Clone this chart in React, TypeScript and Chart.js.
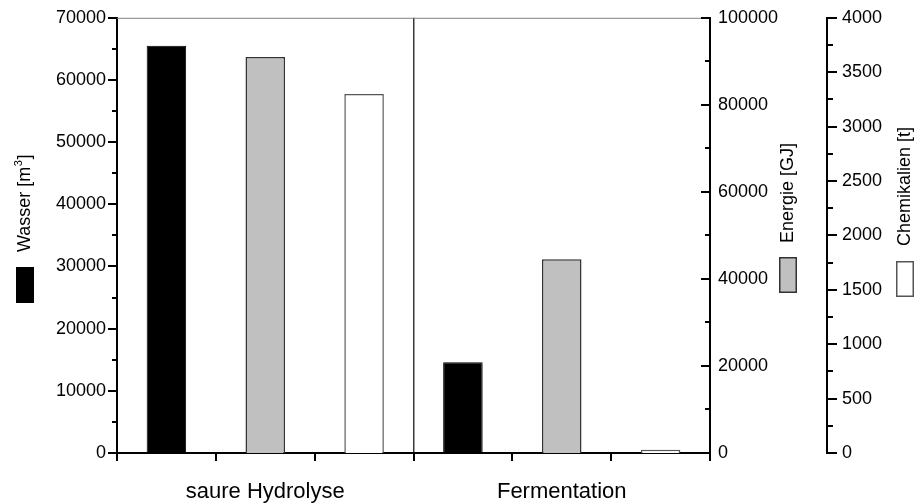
import { useEffect, useRef } from 'react';
import { Chart, registerables } from 'chart.js';

Chart.register(...registerables);

// Process variants on the x axis
const processes = ['saure Hydrolyse', 'Fermentation'];

// Consumption per process
const wasser = [65500, 14600]; // m³
const energie = [91000, 44500]; // GJ
const chemikalien = [3300, 30]; // t

// Series titles
const seriesTitles = ['Wasser [m³]', 'Energie [GJ]', 'Chemikalien [t]'];

// Axis ranges: [max, major step, minor step]
const wasserAxis = [70000, 10000, 5000];
const energieAxis = [100000, 20000, 10000];
const chemikalienAxis = [4000, 500, 250];

const FONT = "'Liberation Sans', Arial, Helvetica, sans-serif";

function drawYTicks(chart: any, id: string, axis: number[], x0: number, dir: number) {
  const { ctx } = chart;
  const scale = chart.scales[id];
  const [max, major, minor] = axis;
  ctx.strokeStyle = '#000';
  ctx.lineWidth = 2;
  for (let v = 0; v <= max; v += minor) {
    const y = Math.round(scale.getPixelForValue(v));
    const len = v % major === 0 ? 9 : 5;
    ctx.beginPath();
    ctx.moveTo(x0, y);
    ctx.lineTo(x0 + dir * len, y);
    ctx.stroke();
  }
}

const framePlugin = {
  id: 'frame',
  afterDraw(chart: any) {
    const { ctx, chartArea: a, scales } = chart;
    ctx.save();

    // top frame line
    ctx.strokeStyle = '#808080';
    ctx.lineWidth = 1;
    ctx.beginPath();
    ctx.moveTo(a.left, a.top + 0.5);
    ctx.lineTo(a.right, a.top + 0.5);
    ctx.stroke();

    // y axis tick marks (major + minor)
    drawYTicks(chart, 'yW', wasserAxis, a.left, -1);
    drawYTicks(chart, 'yE', energieAxis, a.right, -1);
    drawYTicks(chart, 'yC', chemikalienAxis, Math.round(scales.yC.left) + 1, 1);

    // x axis tick marks at slot boundaries
    const xs = scales.x;
    const w = xs.getPixelForValue(1) - xs.getPixelForValue(0);
    ctx.strokeStyle = '#000';
    ctx.lineWidth = 2;
    for (let i = 0; i < processes.length; i++) {
      const c = xs.getPixelForValue(i);
      for (const off of [-w / 2, -w / 6, w / 6, w / 2]) {
        const x = Math.round(c + off);
        ctx.beginPath();
        ctx.moveTo(x, a.bottom);
        ctx.lineTo(x, a.bottom + 8);
        ctx.stroke();
      }
    }

    // rotated axis titles with colour keys
    const placements = [
      { cx: 25, bottom: 252, key: 267 },
      { cx: 788, bottom: 243, key: 257 },
      { cx: 905, bottom: 246, key: 261 },
    ];
    placements.forEach((p, i) => {
      const ds = chart.data.datasets[i];
      const title = seriesTitles[i];
      ctx.save();
      ctx.translate(p.cx, p.bottom);
      ctx.rotate(-Math.PI / 2);
      ctx.fillStyle = '#000';
      ctx.textAlign = 'left';
      ctx.textBaseline = 'middle';
      const parts = title.split('³');
      ctx.font = `18px ${FONT}`;
      ctx.fillText(parts[0], 0, 0);
      if (parts.length > 1) {
        let x = ctx.measureText(parts[0]).width;
        ctx.font = `11px ${FONT}`;
        ctx.fillText('3', x + 0.5, -6);
        x += ctx.measureText('3').width + 1;
        ctx.font = `18px ${FONT}`;
        ctx.fillText(parts[1], x, 0);
      }
      ctx.restore();

      ctx.fillStyle = ds.backgroundColor;
      ctx.strokeStyle = ds.borderColor;
      ctx.lineWidth = 1.5;
      ctx.fillRect(p.cx - 9, p.key, 18, 36);
      ctx.strokeRect(p.cx - 9 + 0.75, p.key + 0.75, 16.5, 34.5);
    });

    ctx.restore();
  },
};

export default function App() {
  const ref = useRef<HTMLCanvasElement>(null);

  useEffect(() => {
    if (!ref.current) return;
    const tickFont = { size: 18, family: FONT };
    const chart = new Chart(ref.current, {
      type: 'bar',
      data: {
        labels: processes,
        datasets: [
          { label: seriesTitles[0], data: wasser, yAxisID: 'yW', backgroundColor: '#000000', borderColor: '#000000', borderWidth: 1 },
          { label: seriesTitles[1], data: energie, yAxisID: 'yE', backgroundColor: '#c0c0c0', borderColor: '#333333', borderWidth: 1.5 },
          { label: seriesTitles[2], data: chemikalien, yAxisID: 'yC', backgroundColor: '#ffffff', borderColor: '#555555', borderWidth: 1.5 },
        ],
      },
      options: {
        responsive: false,
        animation: false,
        layout: { padding: { top: 8, left: 0, right: 0, bottom: 0 } },
        datasets: { bar: { barPercentage: 0.4, categoryPercentage: 1 } },
        plugins: { legend: { display: false }, tooltip: { enabled: false } },
        scales: {
          x: {
            type: 'category',
            position: 'bottom',
            offset: true,
            grid: {
              offset: true,
              drawTicks: false,
              lineWidth: 1.5,
              color: (c: any) => (c.index === 1 ? '#3a3a3a' : 'rgba(0,0,0,0)'),
            },
            border: { display: true, color: '#000', width: 2 },
            ticks: { color: '#000', font: { size: 22, family: FONT }, padding: 26, maxRotation: 0, autoSkip: false },
            afterFit: (s: any) => { s.height = 50; },
          },
          yW: {
            position: 'left',
            min: 0,
            max: wasserAxis[0],
            weight: 0,
            grid: { display: false },
            border: { display: true, color: '#000', width: 2 },
            ticks: { stepSize: wasserAxis[1], padding: 3, color: '#000', font: tickFont, callback: (v: any) => String(v) },
            afterFit: (s: any) => { s.width = 117; },
          },
          yE: {
            position: 'right',
            min: 0,
            max: energieAxis[0],
            weight: 1,
            grid: { display: false },
            border: { display: true, color: '#000', width: 2 },
            ticks: { stepSize: energieAxis[1], padding: 0, color: '#000', font: tickFont, callback: (v: any) => String(v) },
            afterFit: (s: any) => { s.width = 117; },
          },
          yC: {
            position: 'right',
            min: 0,
            max: chemikalienAxis[0],
            weight: 2,
            grid: { display: false },
            border: { display: true, color: '#000', width: 2 },
            ticks: { stepSize: chemikalienAxis[1], padding: 7, color: '#000', font: tickFont, callback: (v: any) => String(v) },
            afterFit: (s: any) => { s.width = 90; },
          },
        },
      } as any,
      plugins: [framePlugin],
    });
    return () => chart.destroy();
  }, []);

  return (
    <div style={{ position: 'fixed', left: 0, top: 0, width: 917, height: 503, background: '#fff' }}>
      <canvas ref={ref} width={917} height={503} style={{ width: 917, height: 503, display: 'block' }} />
    </div>
  );
}
